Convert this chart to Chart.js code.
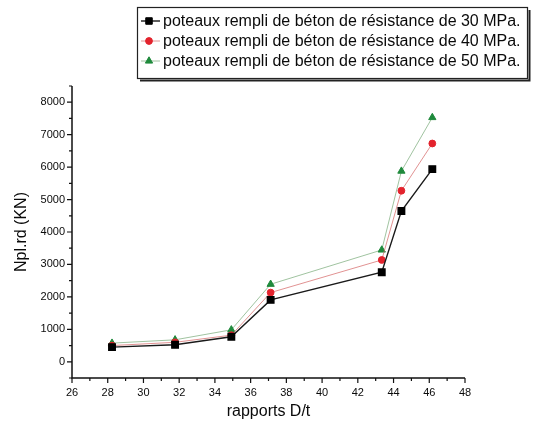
<!DOCTYPE html>
<html>
<head>
<meta charset="utf-8">
<script src="https://cdn.jsdelivr.net/npm/chart.js@4.4.0/dist/chart.umd.min.js"></script>
<style>
  html, body { margin: 0; padding: 0; background: #fff; }
  #wrap { width: 538px; height: 425px; }
</style>
</head>
<body>
<div id="wrap"><canvas id="c" width="538" height="425"></canvas></div>
<script>
// ---- data ----
const ratiosDt = [28.24, 31.77, 34.92, 37.12, 43.34, 44.44, 46.17];
const npl30 = [452, 523, 770, 1908, 2760, 4646, 5938];
const npl40 = [500, 600, 820, 2133, 3138, 5272, 6728];
const npl50 = [575, 677, 985, 2390, 3446, 5877, 7529];
const seriesLabels = [
  'poteaux rempli de béton de résistance de 30 MPa.',
  'poteaux rempli de béton de résistance de 40 MPa.',
  'poteaux rempli de béton de résistance de 50 MPa.'
];
const xTickValues = [26, 28, 30, 32, 34, 36, 38, 40, 42, 44, 46, 48];
const yTickValues = [0, 1000, 2000, 3000, 4000, 5000, 6000, 7000, 8000];
const xTitle = 'rapports D/t';
const yTitle = 'Npl.rd (KN)';

const FONT = "'Liberation Sans', Arial, sans-serif";

function pts(vals) { return ratiosDt.map((x, i) => ({ x: x, y: vals[i] })); }

const minorX = [];
for (let v = 26; v <= 48; v += 1) minorX.push(v);
const minorY = [];
for (let v = -500; v <= 8500; v += 500) minorY.push(v);

const axesPlugin = {
  id: 'axesPlugin',
  afterDraw(chart) {
    const ctx = chart.ctx;
    const xs = chart.scales.x, ys = chart.scales.y;
    const a = chart.chartArea;
    ctx.save();
    ctx.strokeStyle = '#111';
    ctx.lineWidth = 1.5;
    ctx.beginPath();
    ctx.moveTo(a.left, a.top);
    ctx.lineTo(a.left, a.bottom);
    ctx.lineTo(a.right, a.bottom);
    ctx.stroke();
    ctx.lineWidth = 1.2;
    ctx.beginPath();
    minorX.forEach(v => {
      const px = xs.getPixelForValue(v);
      const len = xTickValues.includes(v) ? 5 : 3;
      ctx.moveTo(px, a.bottom); ctx.lineTo(px, a.bottom + len);
    });
    minorY.forEach(v => {
      const py = ys.getPixelForValue(v);
      const len = yTickValues.includes(v) ? 5 : 3;
      ctx.moveTo(a.left, py); ctx.lineTo(a.left - len, py);
    });
    ctx.stroke();
    ctx.restore();
  }
};

const legendPlugin = {
  id: 'boxLegend',
  afterDraw(chart) {
    const ctx = chart.ctx;
    const bx = 137, by = 7, bw = 390, bh = 71;
    ctx.save();
    ctx.strokeStyle = '#222';
    ctx.lineWidth = 1.2;
    ctx.strokeRect(bx + 0.5, by + 0.5, bw, bh);
    ctx.lineWidth = 2;
    ctx.beginPath();
    ctx.moveTo(bx + 3, by + bh + 2.5);
    ctx.lineTo(bx + bw + 2.5, by + bh + 2.5);
    ctx.lineTo(bx + bw + 2.5, by + 3);
    ctx.stroke();
    ctx.textBaseline = 'middle';
    ctx.textAlign = 'left';
    chart.data.datasets.forEach((d, i) => {
      const y = by + 14 + i * 20;
      ctx.strokeStyle = d.borderColor;
      ctx.lineWidth = d.borderWidth;
      ctx.beginPath();
      ctx.moveTo(141, y); ctx.lineTo(160, y);
      ctx.stroke();
      ctx.fillStyle = d.pointBackgroundColor;
      ctx.strokeStyle = d.pointBorderColor;
      ctx.lineWidth = 1;
      Chart.helpers.drawPoint(ctx, { pointStyle: d.pointStyle, rotation: 0, radius: d.pointRadius, borderWidth: 1 }, 149, y);
      ctx.fillStyle = '#0a0a0a';
      ctx.font = '16px ' + FONT;
      ctx.fillText(d.label, 163, y + 1);
    });
    ctx.restore();
  }
};

const ds = [
  { label: seriesLabels[0], data: pts(npl30), borderColor: '#1a1a1a', borderWidth: 1.4,
    pointStyle: 'rect', pointRadius: 4.6, pointBackgroundColor: '#000', pointBorderColor: '#000' },
  { label: seriesLabels[1], data: pts(npl40), borderColor: 'rgba(215,110,110,0.75)', borderWidth: 1,
    pointStyle: 'circle', pointRadius: 3.4, pointBackgroundColor: '#e3232d', pointBorderColor: '#e3232d' },
  { label: seriesLabels[2], data: pts(npl50), borderColor: 'rgba(120,170,120,0.7)', borderWidth: 1,
    pointStyle: 'triangle', pointRadius: 4.2, pointBackgroundColor: '#1f8a3c', pointBorderColor: '#1f8a3c' }
];

new Chart(document.getElementById('c'), {
  type: 'line',
  data: { datasets: ds },
  options: {
    responsive: false,
    animation: false,
    devicePixelRatio: 1,
    layout: { padding: { top: 86, right: 73, left: 0, bottom: 0 } },
    elements: { line: { tension: 0 }, point: { borderWidth: 1 } },
    plugins: { legend: { display: false }, tooltip: { enabled: false } },
    scales: {
      x: {
        type: 'linear', min: 26, max: 48,
        afterBuildTicks: s => { s.ticks = xTickValues.map(v => ({ value: v })); },
        afterFit: s => { s.height = 47; },
        grid: { display: false, drawTicks: false },
        border: { display: false },
        ticks: { color: '#0a0a0a', font: { family: FONT, size: 11 }, padding: 8, maxRotation: 0, autoSkip: false,
                 callback: v => String(v) },
        title: { display: true, text: xTitle, color: '#0a0a0a', font: { family: FONT, size: 16 }, padding: { top: 0, bottom: 4 } }
      },
      y: {
        type: 'linear', min: -500, max: 8500,
        afterBuildTicks: s => { s.ticks = yTickValues.map(v => ({ value: v })); },
        afterFit: s => { s.width = 72; },
        grid: { display: false, drawTicks: false },
        border: { display: false },
        ticks: { color: '#0a0a0a', font: { family: FONT, size: 11 }, padding: 7, autoSkip: false,
                 callback: v => String(v) },
        title: { display: true, text: yTitle, color: '#0a0a0a', font: { family: FONT, size: 16 }, padding: { top: 12, bottom: 0 } }
      }
    }
  },
  plugins: [axesPlugin, legendPlugin]
});
</script>
</body>
</html>
